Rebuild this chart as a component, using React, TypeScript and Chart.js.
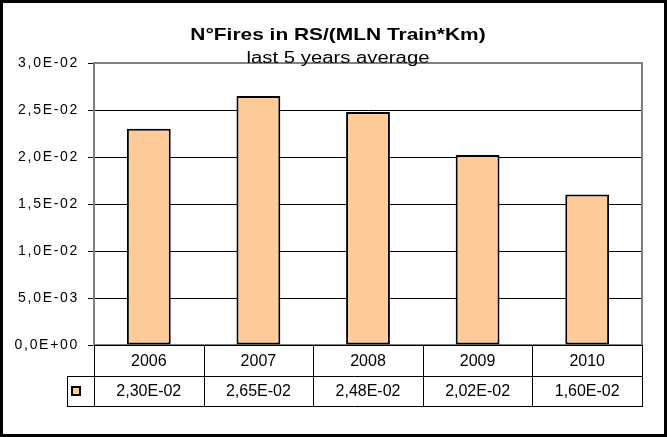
import { useEffect, useRef } from 'react';
import { Chart, registerables } from 'chart.js';

Chart.register(...registerables);

const years = ['2006', '2007', '2008', '2009', '2010'];
const firesPerMlnTrainKm = [0.023, 0.0265, 0.0248, 0.0202, 0.016];
const yMin = 0;
const yMax = 0.03;
const yStep = 0.005;
const titleText = 'N°Fires in RS/(MLN Train*Km)';
const subtitleText = 'last 5 years average';

const BAR_COLOR = '#FFCC99';
const FONT = '"Liberation Sans", Arial, sans-serif';

function sci(v: number, digits: number): string {
  const s = v.toExponential(digits);
  const [m, e] = s.split('e');
  const n = parseInt(e, 10);
  return m.replace('.', ',') + 'E' + (n < 0 ? '-' : '+') + String(Math.abs(n)).padStart(2, '0');
}

function stretchedText(ctx: CanvasRenderingContext2D, text: string, cx: number, baseline: number, font: string, sx: number) {
  ctx.save();
  ctx.font = font;
  ctx.fillStyle = '#000';
  ctx.textAlign = 'center';
  ctx.textBaseline = 'alphabetic';
  ctx.translate(cx, baseline);
  ctx.scale(sx, 1);
  ctx.fillText(text, 0, 0);
  ctx.restore();
}

const decorPlugin = {
  id: 'decor',
  beforeDraw(chart: any) {
    const ctx = chart.ctx as CanvasRenderingContext2D;
    ctx.save();
    ctx.fillStyle = '#fff';
    ctx.fillRect(0, 0, chart.width, chart.height);
    ctx.restore();
    (ctx as any).letterSpacing = '1.7px';
  },
  beforeDatasetsDraw(chart: any) {
    const ctx = chart.ctx as CanvasRenderingContext2D;
    (ctx as any).letterSpacing = '0px';
    const { left, right, top, bottom } = chart.chartArea;
    ctx.save();
    ctx.strokeStyle = '#808080';
    ctx.lineWidth = 2;
    ctx.strokeRect(left, top, right - left, bottom - top);
    ctx.restore();
  },
  afterDraw(chart: any) {
    const ctx = chart.ctx as CanvasRenderingContext2D;
    (ctx as any).letterSpacing = '0px';
    const { left, right, bottom } = chart.chartArea;
    const n = years.length;
    const w = (right - left) / n;
    const r1 = bottom + 31;
    const r2 = bottom + 61;
    const keyLeft = left - 27;

    ctx.save();
    // axis line
    ctx.strokeStyle = '#000';
    ctx.lineWidth = 1;
    ctx.beginPath();
    ctx.moveTo(left, Math.round(bottom) + 0.5);
    ctx.lineTo(right, Math.round(bottom) + 0.5);
    // horizontal table lines
    ctx.moveTo(keyLeft, r1 + 0.5);
    ctx.lineTo(right, r1 + 0.5);
    ctx.moveTo(keyLeft, r2 + 0.5);
    ctx.lineTo(right, r2 + 0.5);
    ctx.moveTo(keyLeft + 0.5, r1);
    ctx.lineTo(keyLeft + 0.5, r2);
    for (let i = 0; i <= n; i++) {
      const x = Math.round(left + i * w) + 0.5;
      ctx.moveTo(x, bottom);
      ctx.lineTo(x, r2 + 1);
    }
    ctx.stroke();

    // texts
    ctx.fillStyle = '#000';
    ctx.font = '16px ' + FONT;
    ctx.textAlign = 'center';
    ctx.textBaseline = 'middle';
    for (let i = 0; i < n; i++) {
      const cx = left + (i + 0.5) * w;
      ctx.fillText(years[i], cx, bottom + 16.5);
      ctx.fillText(sci(firesPerMlnTrainKm[i], 2), cx, r1 + 16);
    }

    // legend key
    ctx.fillStyle = BAR_COLOR;
    ctx.fillRect(keyLeft + 5, r1 + 11, 8, 8);
    ctx.strokeStyle = '#000';
    ctx.lineWidth = 2;
    ctx.strokeRect(keyLeft + 5, r1 + 11, 8, 8);

    // titles
    stretchedText(ctx, titleText, 338, 40, 'bold 17px ' + FONT, 1.23);
    stretchedText(ctx, subtitleText, 338, 63, '16px ' + FONT, 1.27);

    // outer frame
    ctx.strokeStyle = '#000';
    ctx.lineWidth = 3;
    ctx.strokeRect(1.5, 1.5, chart.width - 3, chart.height - 3);
    ctx.restore();
  },
};

export default function App() {
  const ref = useRef<HTMLCanvasElement | null>(null);

  useEffect(() => {
    if (!ref.current) return;
    const chart = new Chart(ref.current, {
      type: 'bar',
      data: {
        labels: years,
        datasets: [
          {
            label: 'N°Fires in RS/(MLN Train*Km)',
            data: firesPerMlnTrainKm,
            backgroundColor: BAR_COLOR,
            borderColor: '#000',
            borderWidth: 2,
            borderSkipped: false,
            barPercentage: 0.4,
            categoryPercentage: 1,
          },
        ],
      },
      options: {
        responsive: false,
        animation: false,
        devicePixelRatio: 1,
        layout: { padding: { left: 0, right: 25, top: 63, bottom: 92 } },
        plugins: {
          legend: { display: false },
          title: { display: false },
          tooltip: { enabled: false },
        },
        scales: {
          x: {
            display: false,
            offset: true,
            grid: { display: false },
          },
          y: {
            min: yMin,
            max: yMax,
            afterFit(scale: any) {
              scale.width = 94;
            },
            ticks: {
              stepSize: yStep,
              padding: 9,
              color: '#000',
              font: { family: FONT, size: 14 },
              callback: (v: any) => sci(Number(v), 1),
            },
            grid: {
              color: '#000',
              lineWidth: 1,
              drawTicks: true,
              tickLength: 6,
            },
            border: { display: true, color: '#808080', width: 2 },
          },
        },
      },
      plugins: [decorPlugin],
    });
    return () => chart.destroy();
  }, []);

  return (
    <div style={{ position: 'absolute', left: 0, top: 0, width: 667, height: 437 }}>
      <canvas ref={ref} width={667} height={437} style={{ display: 'block' }} />
    </div>
  );
}
